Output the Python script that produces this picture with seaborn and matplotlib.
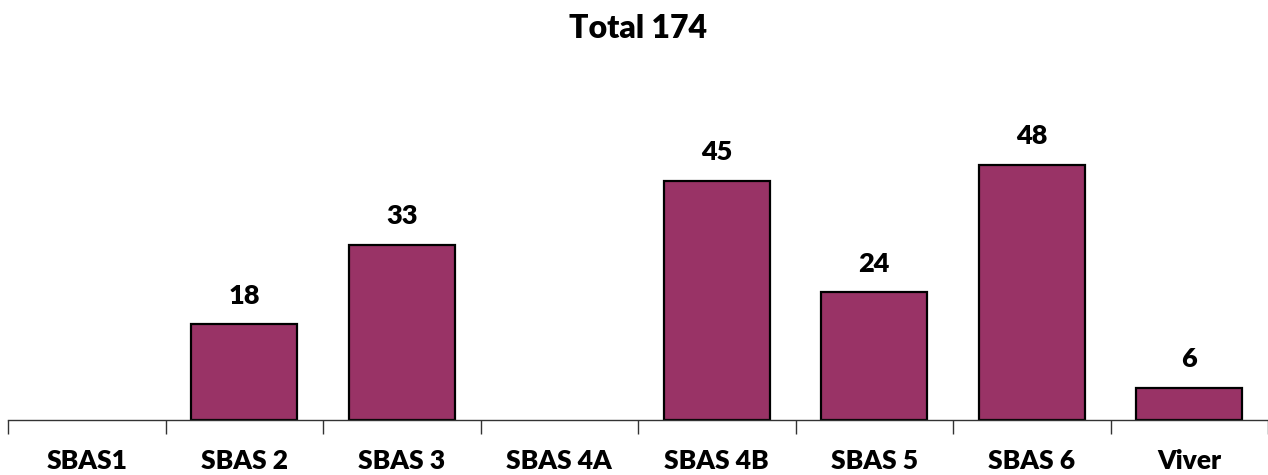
import numpy as np
import pandas as pd
import matplotlib
matplotlib.use('Agg')
import matplotlib.pyplot as plt
import seaborn as sns

# Data
categories = ['SBAS1', 'SBAS 2', 'SBAS 3', 'SBAS 4A', 'SBAS 4B', 'SBAS 5', 'SBAS 6', 'Viver']
counts = [0, 18, 33, 0, 45, 24, 48, 6]
title = 'Total 174'

df = pd.DataFrame({'Category': categories, 'Count': counts})

sns.set_theme(style='white')
plt.rcParams['font.family'] = ['Lato', 'DejaVu Sans']
plt.rcParams['text.color'] = 'black'
plt.rcParams['xtick.color'] = 'black'

fig = plt.figure(figsize=(12.68, 4.75), dpi=100)
ax = fig.add_axes([8 / 1268, 55 / 475, 1 - 8 / 1268, (420 - 101) / 475])

sns.barplot(data=df, x='Category', y='Count', color='#993366', saturation=1,
            width=0.67, edgecolor='black', linewidth=1.6, ax=ax)

# hide the empty bars (no outline for zero values)
for bar, v in zip(ax.patches, counts):
    if v == 0:
        bar.set_visible(False)

# Value labels, only for non-zero bars
labels = [str(v) if v > 0 else '' for v in counts]
ax.bar_label(ax.containers[0], labels=labels, padding=12, fontsize=19.5, fontweight='heavy')

ax.set_ylim(0, 60)
ax.set_xlim(-0.5, len(categories) - 0.5)
ax.set_xlabel('')
ax.set_ylabel('')
ax.set_yticks([])

for s in ['top', 'right', 'left']:
    ax.spines[s].set_visible(False)
ax.spines['bottom'].set_color('#333333')
ax.spines['bottom'].set_linewidth(1.0)

# category labels, ticks at the boundaries
ax.set_xticks(range(len(categories)))
ax.set_xticklabels(categories, fontsize=19, fontweight='heavy')
ax.tick_params(axis='x', which='major', length=0, pad=21)
ax.set_xticks(np.arange(-0.5, len(categories), 1.0), minor=True)
ax.tick_params(axis='x', which='minor', length=10, width=1.0, color='#333333', direction='out', bottom=True)

fig.text(0.5 + 4 / 1268, 1 - 28 / 475, title, ha='center', va='center', fontsize=23, fontweight='heavy')

fig.savefig('out.png', dpi=100)
